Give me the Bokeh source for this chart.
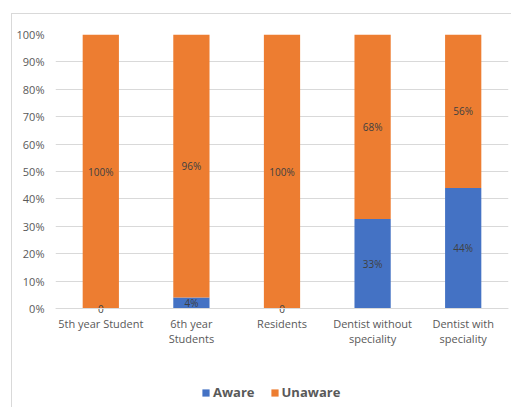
from bokeh.plotting import figure
from bokeh.models import ColumnDataSource, FactorRange, Legend, LegendItem, NumeralTickFormatter, FixedTicker, Span
from bokeh.core.properties import value
from bokeh.embed import file_html
from bokeh.resources import INLINE

categories = ["5th year Student", "6th year Students", "Residents", "Dentist without speciality", "Dentist with speciality"]
tick_labels = ["5th year Student", "6th year\nStudents", "Residents", "Dentist without\nspeciality", "Dentist with\nspeciality"]
aware = [0, 4, 0, 33, 44]
unaware = [100, 96, 100, 68, 56]
y_ticks = [0, 0.1, 0.2, 0.3, 0.4, 0.5, 0.6, 0.7, 0.8, 0.9, 1.0]

BLUE = "#4472C4"
ORANGE = "#ED7D31"
FONT = "Open Sans"

# layout: plot area 274 px tall for 0..100%, 100 px extra below for labels/legend
PX = 274.0
BELOW = 100.0

totals = [a + u for a, u in zip(aware, unaware)]
aware_f = [a / t for a, t in zip(aware, totals)]
unaware_f = [u / t for u, t in zip(unaware, totals)]

src = ColumnDataSource(dict(
    cat=categories,
    aware=aware_f,
    unaware=unaware_f,
    aware_mid=[a / 2 for a in aware_f],
    unaware_mid=[a + u / 2 for a, u in zip(aware_f, unaware_f)],
    aware_lbl=[("0" if a == 0 else f"{a}%") for a in aware],
    unaware_lbl=[f"{u}%" for u in unaware],
))
lbl_src = ColumnDataSource(dict(cat=categories, txt=tick_labels, y=[-7 / PX] * len(categories)))

p = figure(x_range=FactorRange(*categories, range_padding=0), y_range=(-BELOW / PX, 1),
           width=500, height=394, output_backend="svg", toolbar_location=None)
p.min_border = 0
p.min_border_left = 43
p.min_border_right = 4
p.min_border_top = 20
p.min_border_bottom = 0
p.margin = (13, 0, 0, 11)
p.styles = {"border-left": "1px solid #d9d9d9", "border-top": "1px solid #d9d9d9"}
p.outline_line_color = None
p.background_fill_color = "white"
p.border_fill_color = "white"

p.xgrid.grid_line_color = None
p.ygrid.grid_line_color = "#d9d9d9"
p.ygrid.ticker = FixedTicker(ticks=y_ticks)
p.add_layout(Span(location=0, dimension="width", line_color="#d9d9d9", line_width=1))

r = p.vbar_stack(["aware", "unaware"], x="cat", width=0.4, source=src,
                 color=[BLUE, ORANGE], line_color=None)

p.text(x="cat", y="aware_mid", text="aware_lbl", source=src, text_align="center",
       text_baseline="middle", text_font=value(FONT), text_font_size="10px", text_color="#404040")
p.text(x="cat", y="unaware_mid", text="unaware_lbl", source=src, text_align="center",
       text_baseline="middle", text_font=value(FONT), text_font_size="10px", text_color="#404040")
p.text(x="cat", y="y", text="txt", source=lbl_src, text_align="center",
       text_baseline="top", text_font=value(FONT), text_font_size="11px", text_color="#595959",
       text_line_height=1.0)

p.yaxis.ticker = FixedTicker(ticks=y_ticks)
p.yaxis.formatter = NumeralTickFormatter(format="0%")
p.yaxis.axis_line_color = None
p.yaxis.major_tick_line_color = None
p.yaxis.minor_tick_line_color = None
p.yaxis.major_tick_out = 0
p.yaxis.major_tick_in = 0
p.yaxis.minor_tick_out = 0
p.yaxis.minor_tick_in = 0
p.yaxis.major_label_standoff = 11
p.yaxis.major_label_text_font = FONT
p.yaxis.major_label_text_font_size = "11px"
p.yaxis.major_label_text_color = "#595959"
p.xaxis.visible = False

legend = Legend(items=[LegendItem(label="Aware", renderers=[r[0]]),
                       LegendItem(label="Unaware", renderers=[r[1]])],
                orientation="horizontal", location=(146, 7),
                glyph_width=9, glyph_height=9, label_standoff=3, spacing=15,
                padding=0, margin=0, border_line_color=None, background_fill_alpha=0,
                label_text_font=FONT, label_text_font_size="13px",
                label_text_font_style="bold", label_text_color="#595959")
p.add_layout(legend, "center")

open("out.html", "w").write(file_html(p, INLINE))
